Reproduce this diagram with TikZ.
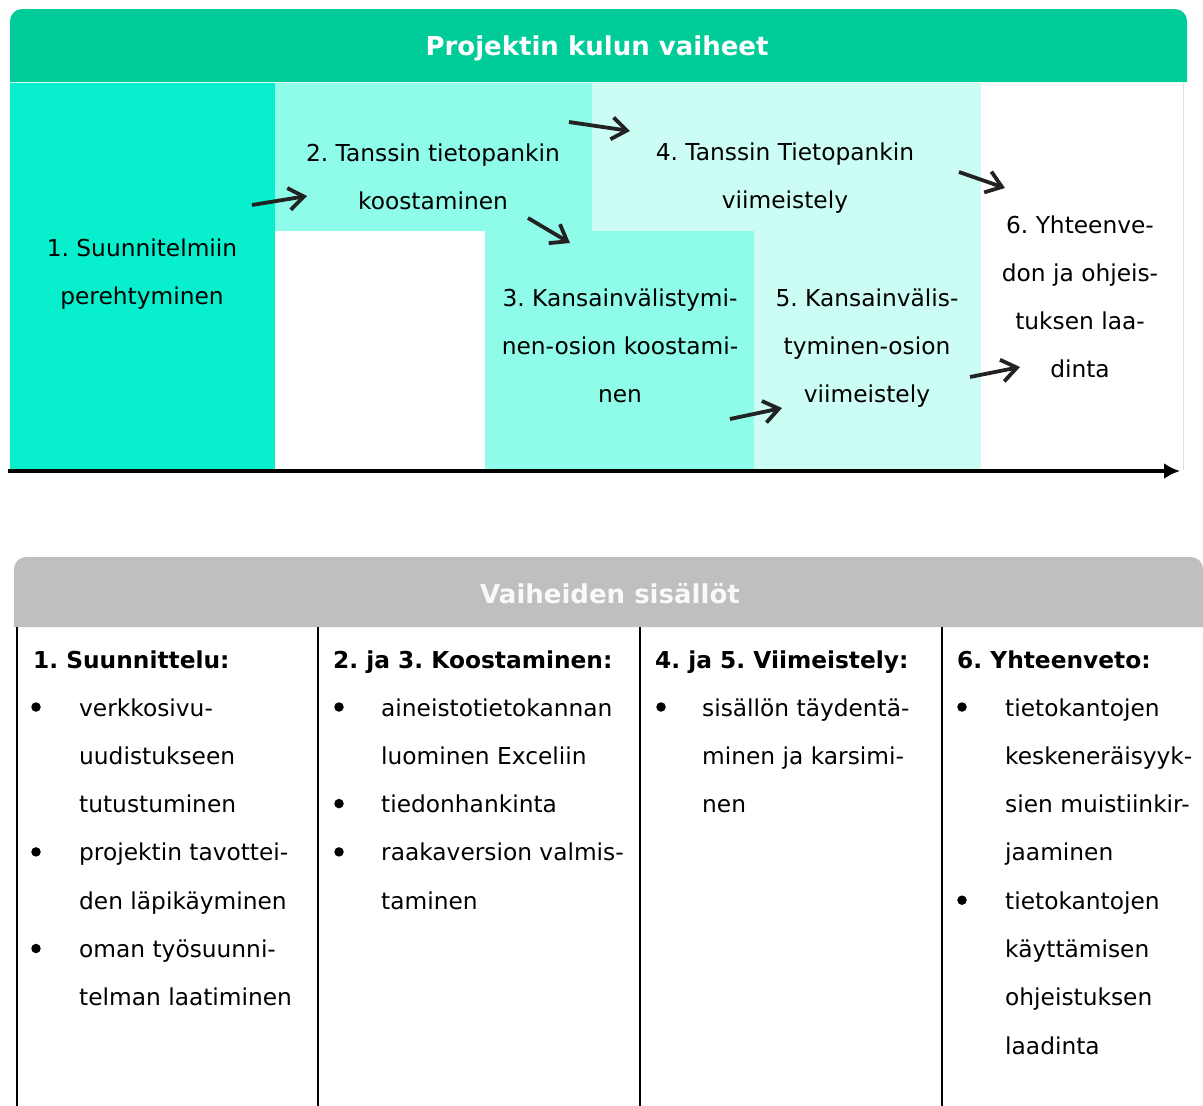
\documentclass[tikz,border=0pt]{standalone}
\usepackage{fontspec}
\setmainfont{DejaVu Sans}
\usetikzlibrary{arrows.meta}
\definecolor{headgreen}{HTML}{00CC99}
\definecolor{phaseA}{HTML}{07EFCC}
\definecolor{phaseB}{HTML}{8FFCE9}
\definecolor{phaseC}{HTML}{CCFDF4}
\definecolor{headgray}{HTML}{BFBFBF}
\definecolor{arrowgray}{HTML}{222222}
\tikzset{
  txt/.style={font=\fontsize{23.3}{28}\selectfont, inner sep=0pt, anchor=base},
  ltxt/.style={txt, anchor=base west},
  btxt/.style={ltxt, font=\fontsize{23.3}{28}\selectfont\bfseries},
  head/.style={inner sep=0pt, anchor=base, text=white, font=\fontsize{26}{30}\selectfont\bfseries},
  bul/.style={circle, fill=black, inner sep=0pt, minimum size=9.5pt},
  flow/.style={draw=arrowgray, line width=3.8pt, -{Straight Barb[length=15pt,width=22pt]}},
  rule/.style={line width=2.2pt}
}
\frenchspacing
\begin{document}
\begin{tikzpicture}[x=1pt,y=-1pt]
  \useasboundingbox (0,0) rectangle (1203,1106);

  % top part
  \fill[headgreen] (10,82) [rounded corners=12pt] -- (10,9) -- (1187,9) [sharp corners] -- (1187,82) -- cycle;
  \node[head] (title) at (597,55.5) {Projektin kulun vaiheet};

  \fill[phaseA] (10,83) rectangle (275,470);
  \fill[phaseB] (275,83) rectangle (592,231);
  \fill[phaseB] (485,231) rectangle (754,470);
  \fill[phaseC] (592,83) rectangle (981,231);
  \fill[phaseC] (754,231) rectangle (981,470);
  \draw[gray!25, line width=1pt] (1183,83) -- (1183,470);

  \foreach \l [count=\i] in {1. Suunnitelmiin, perehtyminen}
    \node[txt] (p1-\i) at ({142},{256+48.3*(\i-1)}) {\l};
  \foreach \l [count=\i] in {2. Tanssin tietopankin, koostaminen}
    \node[txt] (p2-\i) at ({433},{161+48.3*(\i-1)}) {\l};
  \foreach \l [count=\i] in {3. Kansainvälistymi-, nen-osion koostami-, nen}
    \node[txt] (p3-\i) at ({620},{306+48.3*(\i-1)}) {\l};
  \foreach \l [count=\i] in {4. Tanssin Tietopankin, viimeistely}
    \node[txt] (p4-\i) at ({785},{160+48.3*(\i-1)}) {\l};
  \foreach \l [count=\i] in {5. Kansainvälis-, tyminen-osion, viimeistely}
    \node[txt] (p5-\i) at ({867},{306+48.3*(\i-1)}) {\l};
  \foreach \l [count=\i] in {6. Yhteenve-, don ja ohjeis-, tuksen laa-, dinta}
    \node[txt] (p6-\i) at ({1080},{233+48.3*(\i-1)}) {\l};

  \coordinate (a1) at (252,205);  \coordinate (a2) at (307,196);
  \coordinate (b1) at (569,122);  \coordinate (b2) at (630,131);
  \coordinate (c1) at (528,218);  \coordinate (c2) at (570,243);
  \coordinate (d1) at (959,172);  \coordinate (d2) at (1005,188);
  \coordinate (e1) at (730,419);  \coordinate (e2) at (782,408);
  \coordinate (f1) at (970,377);  \coordinate (f2) at (1020,367);
  \draw[flow] (a1) -- (a2);
  \draw[flow] (b1) -- (b2);
  \draw[flow] (c1) -- (c2);
  \draw[flow] (d1) -- (d2);
  \draw[flow] (e1) -- (e2);
  \draw[flow] (f1) -- (f2);

  \coordinate (t0) at (8,471);
  \coordinate (t1) at (1180,471);
  \draw[line width=3.8pt, -{Latex[length=16pt,width=16pt]}] (t0) -- (t1);

  % bottom part
  \fill[headgray] (14,627) [rounded corners=12pt] -- (14,557) -- (1203,557) [sharp corners] -- (1203,627) -- cycle;
  \node[head, text=white!95!gray] (subtitle) at (610,603.5) {Vaiheiden sisällöt};

  \foreach \x in {17,318,640,942}
    \draw[rule] (\x,627) -- (\x,1106);

  \node[btxt] (h1) at (33,668) {1. Suunnittelu:};
  \node[btxt] (h2) at (333,668) {2. ja 3. Koostaminen:};
  \node[btxt] (h3) at (655,668) {4. ja 5. Viimeistely:};
  \node[btxt] (h4) at (957,668) {6. Yhteenveto:};

  \foreach \l [count=\i] in {verkkosivu-, uudistukseen, tutustuminen, projektin tavottei-, den läpikäyminen, oman työsuunni-, telman laatiminen}
    \node[ltxt] (c1-\i) at ({79},{716+48.3*(\i-1)}) {\l};
  \foreach \i in {1,4,6}
    \node[bul] (u1-\i) at ({36},{707+48.3*(\i-1)}) {};

  \foreach \l [count=\i] in {aineistotietokannan, luominen Exceliin, tiedonhankinta, raakaversion valmis-, taminen}
    \node[ltxt] (c2-\i) at ({381},{716+48.3*(\i-1)}) {\l};
  \foreach \i in {1,3,4}
    \node[bul] (u2-\i) at ({339},{707+48.3*(\i-1)}) {};

  \foreach \l [count=\i] in {sisällön täydentä-, minen ja karsimi-, nen}
    \node[ltxt] (c3-\i) at ({702},{716+48.3*(\i-1)}) {\l};
  \node[bul] (u3-1) at (661,707) {};

  \foreach \l [count=\i] in {tietokantojen, keskeneräisyyk-, sien muistiinkir-, jaaminen, tietokantojen, käyttämisen, ohjeistuksen, laadinta}
    \node[ltxt] (c4-\i) at ({1005},{716+48.3*(\i-1)}) {\l};
  \foreach \i in {1,5}
    \node[bul] (u4-\i) at ({962},{707+48.3*(\i-1)}) {};
\end{tikzpicture}
\end{document}
